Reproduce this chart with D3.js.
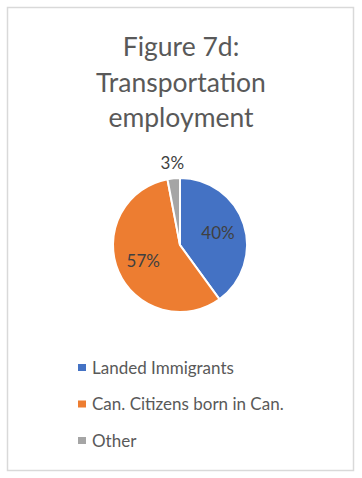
<!DOCTYPE html>
<html>
<head>
<meta charset="utf-8">
<script src="https://cdn.jsdelivr.net/npm/d3@7"></script>
<style>
  body { margin: 0; background: #fff; }
  text { font-family: Lato, "Open Sans", sans-serif; }
</style>
</head>
<body>
<div id="chart"></div>
<script>
// Figure 7d - share of transportation employment
var categories = ["Landed Immigrants", "Can. Citizens born in Can.", "Other"];
var shares = [40, 57, 3];
var colors = ["#4472c4", "#ed7d31", "#a5a5a5"];
var titleLines = ["Figure 7d:", "Transportation", "employment"];

var svgWidth = 362;
var svgHeight = 478;

var svg = d3.select("#chart")
  .append("svg")
  .attr("width", svgWidth)
  .attr("height", svgHeight);

// chart frame
svg.append("rect")
  .attr("x", 7.5)
  .attr("y", 7.5)
  .attr("width", 346)
  .attr("height", 463)
  .attr("fill", "#fff")
  .attr("stroke", "#d9d9d9")
  .attr("stroke-width", 1.5);

// title
svg.append("g")
  .selectAll("text")
  .data(titleLines)
  .enter()
  .append("text")
  .attr("x", 181)
  .attr("y", (d, i) => 56 + i * 35.5)
  .attr("text-anchor", "middle")
  .attr("font-size", "26.5px")
  .attr("fill", "#595959")
  .text(d => d);

// pie
var radius = 67;
var color = d3.scaleOrdinal().domain(categories).range(colors);

var pie = d3.pie()
  .sort(null)
  .value(d => d.value);

var arcs = pie(categories.map((c, i) => ({ name: c, value: shares[i] })));

var arc = d3.arc().innerRadius(0).outerRadius(radius);
var insideArc = d3.arc().innerRadius(40).outerRadius(40);
var outsideArc = d3.arc().innerRadius(82).outerRadius(82);

var pieGroup = svg.append("g")
  .attr("transform", "translate(180, 245)");

pieGroup.selectAll("path")
  .data(arcs)
  .enter()
  .append("path")
  .attr("d", arc)
  .attr("fill", d => color(d.data.name))
  .attr("stroke", "#fff")
  .attr("stroke-width", 2);

pieGroup.selectAll("text")
  .data(arcs)
  .enter()
  .append("text")
  .attr("transform", d => {
    var p = d.data.value < 5 ? outsideArc.centroid(d) : insideArc.centroid(d);
    return `translate(${p[0]}, ${p[1]})`;
  })
  .attr("dy", "0.35em")
  .attr("text-anchor", "middle")
  .attr("font-size", "17px")
  .attr("fill", "#404040")
  .text(d => d.data.value + "%");

// legend
var legend = svg.append("g")
  .selectAll("g")
  .data(categories)
  .enter()
  .append("g")
  .attr("transform", (d, i) => `translate(78, ${368 + i * 36.5})`);

legend.append("rect")
  .attr("x", 0)
  .attr("y", -4)
  .attr("width", 8)
  .attr("height", 7)
  .attr("fill", d => color(d));

legend.append("text")
  .attr("x", 14)
  .attr("dy", "0.35em")
  .attr("font-size", "17px")
  .attr("fill", "#595959")
  .text(d => d);
</script>
</body>
</html>
